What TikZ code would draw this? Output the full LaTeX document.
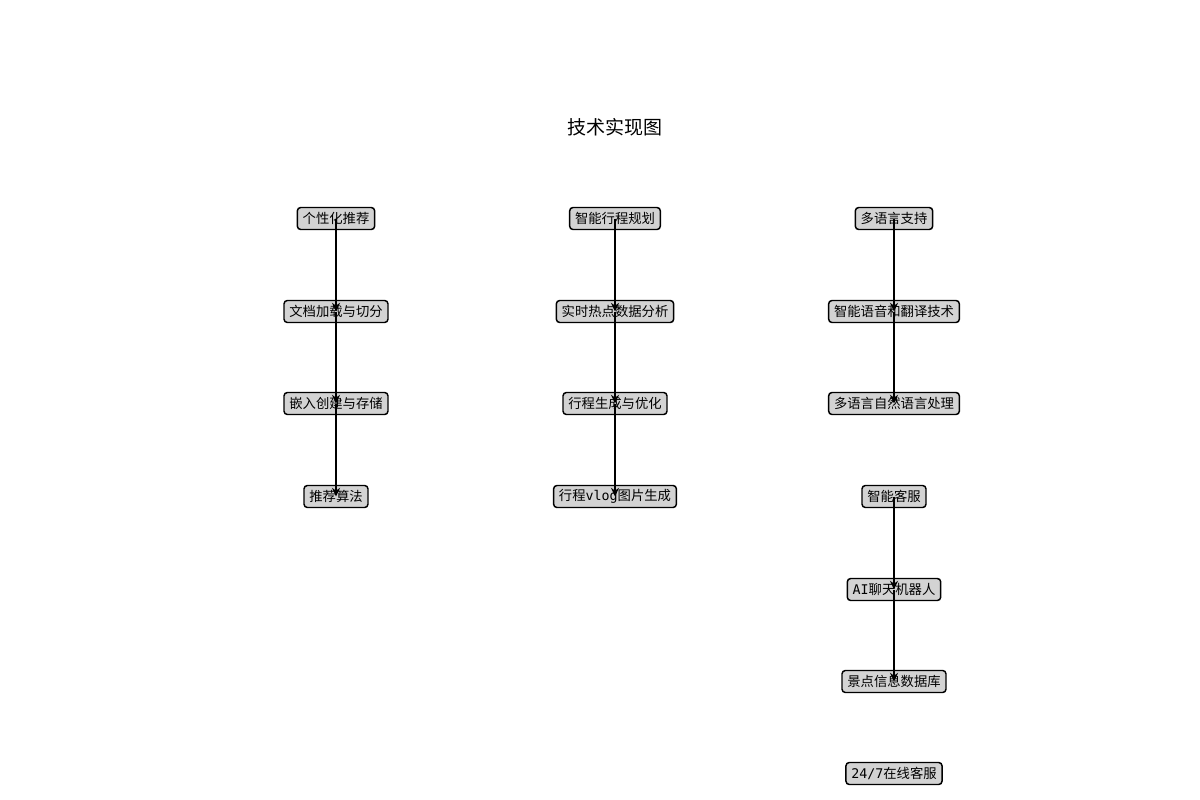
\documentclass[tikz,border=0pt]{standalone}
\usepackage{fontspec}
\newfontfamily\cjk{Noto Sans CJK SC}
\newfontfamily\lat{DejaVu Sans Mono}
\usetikzlibrary{arrows.meta}
\definecolor{boxfill}{HTML}{D3D3D3}
\begin{document}
\begin{tikzpicture}[x=0.75pt,y=-0.75pt,
  tbox/.style={draw=black,line width=1.1pt,fill=boxfill,rounded corners=2.5pt,
    inner xsep=4pt,inner ysep=0pt,minimum height=16.5pt,
    font=\cjk\fontsize{10}{11}\selectfont},
  link/.style={line width=1.5pt,-{Stealth[length=6.5pt,width=6pt]}},
  ttl/.style={font=\cjk\fontsize{14.25}{16}\selectfont}]
\useasboundingbox (0,0) rectangle (1200,800);
\node[ttl] (title) at (615,127) {技术实现图};
% column 1
\node[tbox] (a0) at (336,218.5) {个性化推荐};
\node[tbox] (a1) at (336,311.5) {文档加载与切分};
\node[tbox] (a2) at (336,403.5) {嵌入创建与存储};
\node[tbox] (a3) at (336,496.5) {推荐算法};
% column 2
\node[tbox] (b0) at (615,218.5) {智能行程规划};
\node[tbox] (b1) at (615,311.5) {实时热点数据分析};
\node[tbox] (b2) at (615,403.5) {行程生成与优化};
\node[tbox] (b3) at (615,496.5) {行程{\lat vlog}图片生成};
% column 3
\node[tbox] (c0) at (894,218.5) {多语言支持};
\node[tbox] (c1) at (894,311.5) {智能语音和翻译技术};
\node[tbox] (c2) at (894,403.5) {多语言自然语言处理};
\node[tbox] (c3) at (894,496.5) {智能客服};
\node[tbox] (c4) at (894,589.5) {{\lat AI}聊天机器人};
\node[tbox] (c5) at (894,681.5) {景点信息数据库};
\node[tbox] (c6) at (894,773.5) {{\lat 24/7}在线客服};
% connectors
\draw[link] (a0.center) -- (a1.center);
\draw[link] (a1.center) -- (a2.center);
\draw[link] (a2.center) -- (a3.center);
\draw[link] (b0.center) -- (b1.center);
\draw[link] (b1.center) -- (b2.center);
\draw[link] (b2.center) -- (b3.center);
\draw[link] (c0.center) -- (c1.center);
\draw[link] (c1.center) -- (c2.center);
\draw[link] (c3.center) -- (c4.center);
\draw[link] (c4.center) -- (c5.center);
\end{tikzpicture}
\end{document}
